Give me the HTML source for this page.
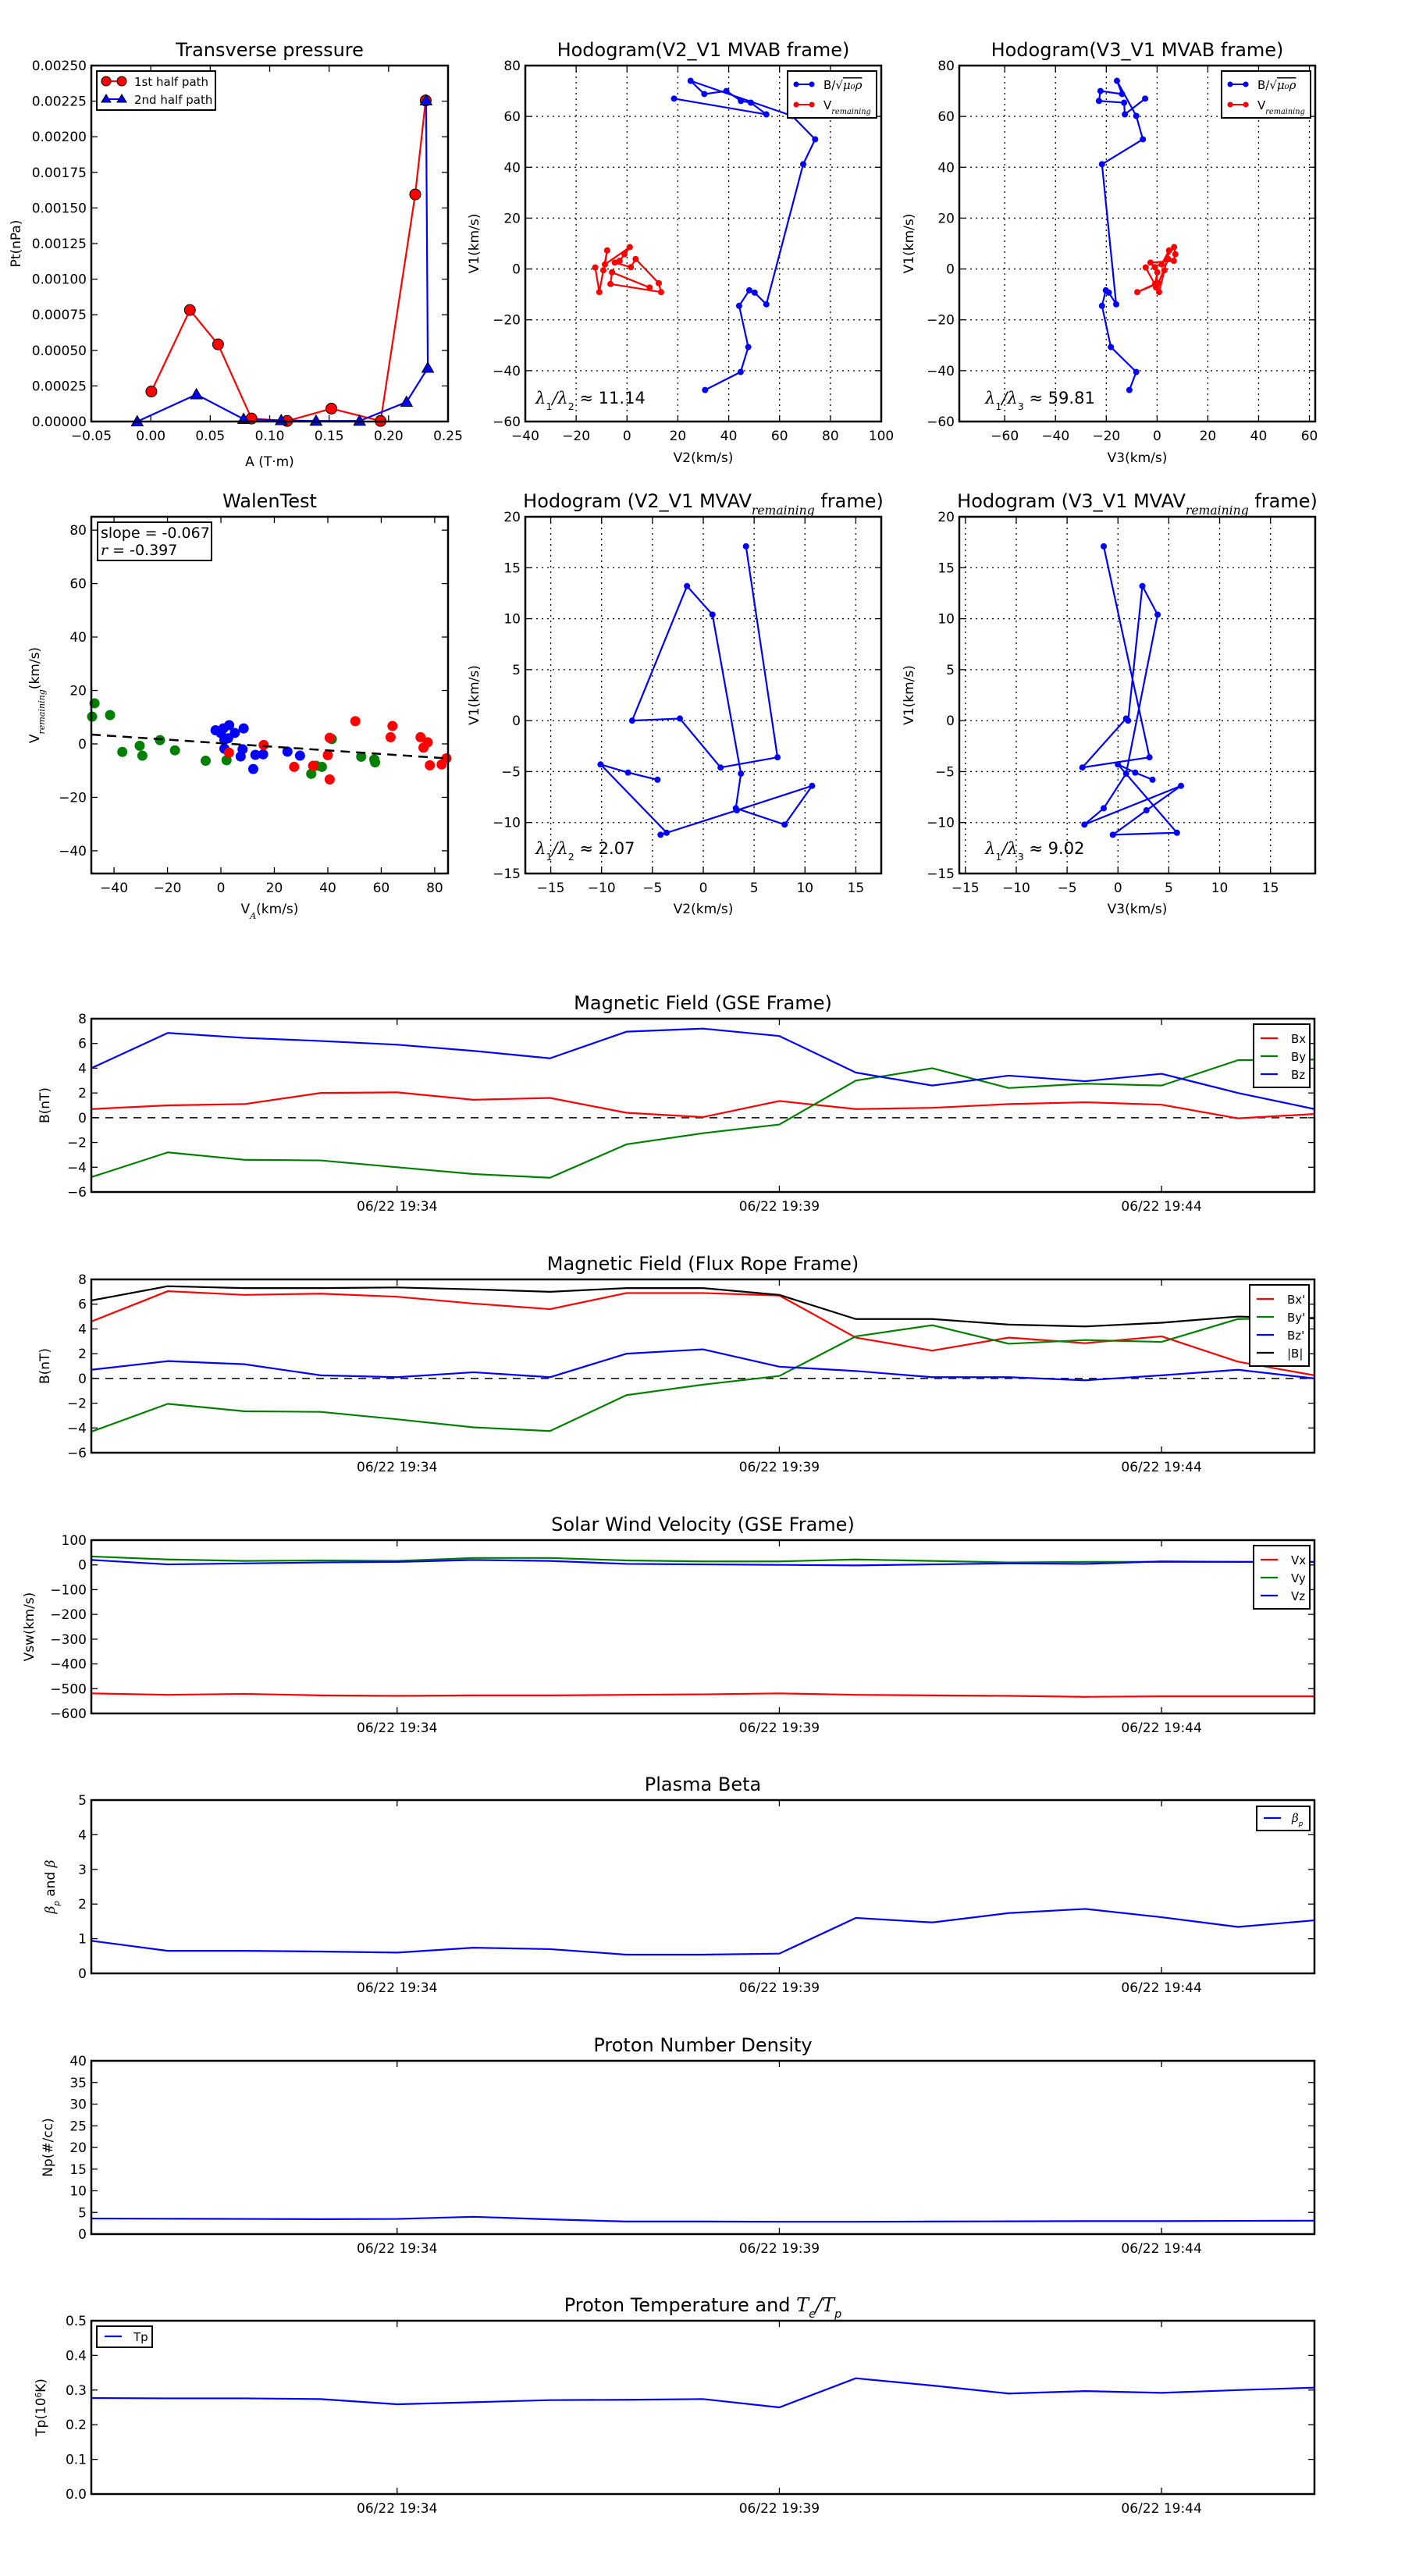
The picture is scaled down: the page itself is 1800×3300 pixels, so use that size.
<!DOCTYPE html>
<html><head><meta charset="utf-8"><title>Flux rope analysis</title>
<style>
html,body{margin:0;padding:0;background:#fff;}
svg{display:block;font-family:"DejaVu Sans","Liberation Sans",sans-serif;}
</style></head>
<body>
<svg id="fig" xmlns="http://www.w3.org/2000/svg" width="1800" height="3300" viewBox="0 0 1800 3300">
<rect x="0" y="0" width="1800" height="3300" fill="#fff"/>
</svg>
<script>
// ---------- Transverse pressure ----------
const tpA1 = [0.0005, 0.0329, 0.0566, 0.0847, 0.1147, 0.1519, 0.1933, 0.2224, 0.2312];
const tpP1 = [0.000211, 0.000783, 0.000542, 0.000021, 0.000004, 0.0000907, 0.000004, 0.001595, 0.002255];
const tpA2 = [-0.0114, 0.0384, 0.0781, 0.1097, 0.139, 0.1756, 0.2151, 0.233, 0.2315];
const tpP2 = [0, 0.00019, 0.000017, 0.000008, 0.000004, 0.000004, 0.000137, 0.000376, 0.002255];
// ---------- MVAB hodograms ----------
const hbV1 = [67, 60.8, 65.4, 66.1, 70, 68.8, 74, 60.2, 51, 41.2, -13.9, -9.3, -8.4, -14.5, -30.7, -40.5, -47.6];
const hbV2 = [18.5, 54.8, 48.7, 44.8, 39.1, 30.4, 25, 65, 74, 69.3, 54.8, 50.2, 48.1, 44.1, 47.7, 44.7, 30.7];
const hbV3 = [-4.7, -12.7, -13, -22.9, -22.3, -13.8, -15.8, -8.2, -5.6, -21.7, -16.1, -19, -20.2, -21.7, -18.2, -8.2, -10.9];
const hrV1 = [0.6, -9.1, -0.5, 7.3, 1.8, 8.6, 5.8, 3.2, 2.5, 0.7, 3.9, -5.6, -9.1, -5.9, -1.3, -7.3];
const hrV2 = [-12.5, -10.9, -9.3, -7.8, -8.7, 1.1, -1, -2.9, -4.8, 1.5, 3.4, 12.5, 13.4, -6.5, -5.9, 8.9];
const hrV3 = [-4.5, 0.8, 2.9, 4.7, 1.8, 6.7, 7.2, 6.6, -2.6, -0.9, 4.4, 0.5, -7.8, -0.8, 0.1, -0.4];
// ---------- MVAV hodograms ----------
const hvV1 = [17.1, -3.6, -4.6, 0.2, 0, 13.2, 10.4, -5.2, -8.6, -10.2, -6.4, -8.8, -11.2, -11, -4.3, -5.1, -5.8];
const hvV2 = [4.2, 7.3, 1.7, -2.3, -7.0, -1.6, 0.9, 3.7, 3.2, 8.0, 10.7, 3.3, -4.2, -3.6, -10.1, -7.4, -4.5];
const hvV3 = [-1.4, 3.1, -3.5, 0.8, 1.0, 2.4, 3.9, 0.8, -1.4, -3.3, 6.2, 2.8, -0.5, 5.8, 0.0, 1.7, 3.4];
// ---------- Walen test ----------
const wgX = [-47.3, -48.2, -41.5, -36.9, -30.4, -29.4, -22.8, -17.2, -5.7, 2.1, 33.8, 35.6, 37.8, 41.5, 52.5, 57.4, 57.7];
const wgY = [15.2, 10.2, 10.8, -3, -0.7, -4.4, 1.4, -2.4, -6.3, -6.1, -11.2, -8.2, -8.6, 1.8, -4.8, -5.8, -6.9];
const wbX = [-2, 0.9, 3.1, -0.1, 1.3, 2.7, 1.3, 5.2, 8.5, 8.1, 7.4, 12.1, 12.9, 15.8, 24.9, 29.6];
const wbY = [5.1, 5.8, 7, 4.1, 1.6, 2.1, -1.8, 4.1, 5.8, -2, -4.7, -9.4, -4.1, -3.9, -2.9, -4.4];
const wrX = [3, 16, 27.4, 34.5, 40, 40.7, 40.7, 50.3, 63.5, 64.2, 74.7, 75.8, 77.4, 78.2, 82.6, 84.4];
const wrY = [-3.3, -0.4, -8.6, -8.2, -4.2, 2.3, -13.3, 8.5, 2.5, 6.7, 2.5, -1.4, 0.6, -8, -7.7, -5.4];
const walenSlope = -0.067;
const walenIntercept = 0.25;
// ---------- Time series ----------
const timeLabels = ["06/22 19:34", "06/22 19:39", "06/22 19:44"];
const timeTickIdx = [4, 9, 14];
const bxG = [0.7, 1.0, 1.1, 2.0, 2.05, 1.45, 1.6, 0.4, 0.05, 1.35, 0.7, 0.8, 1.1, 1.25, 1.05, -0.05, 0.3];
const byG = [-4.8, -2.8, -3.4, -3.45, -4.0, -4.55, -4.85, -2.15, -1.25, -0.55, 3.0, 4.0, 2.4, 2.75, 2.6, 4.65, 4.7];
const bzG = [4.0, 6.85, 6.45, 6.2, 5.9, 5.4, 4.8, 6.95, 7.2, 6.6, 3.65, 2.6, 3.4, 2.95, 3.55, 2.0, 0.7];
const bxF = [4.6, 7.05, 6.75, 6.85, 6.6, 6.05, 5.6, 6.9, 6.9, 6.7, 3.3, 2.25, 3.3, 2.85, 3.4, 1.35, 0.25];
const byF = [-4.3, -2.05, -2.65, -2.7, -3.3, -3.95, -4.25, -1.35, -0.5, 0.2, 3.4, 4.3, 2.8, 3.1, 2.95, 4.8, 4.9];
const bzF = [0.7, 1.4, 1.15, 0.25, 0.1, 0.5, 0.1, 2.0, 2.35, 0.95, 0.6, 0.1, 0.1, -0.15, 0.25, 0.7, 0];
const btF = [6.3, 7.45, 7.3, 7.3, 7.35, 7.2, 7.0, 7.3, 7.3, 6.75, 4.8, 4.8, 4.35, 4.2, 4.5, 5.0, 4.85];
const vx = [-519, -525, -521, -527, -529, -527, -527, -525, -523, -519, -525, -527, -529, -533, -531, -531, -531];
const vy = [34, 22, 16, 18, 16, 28, 28, 18, 14, 14, 22, 16, 10, 12, 12, 12, 12];
const vz = [20, 2, 6, 10, 12, 20, 16, 4, 2, 0, -2, 2, 6, 4, 14, 12, 12];
const betaP = [0.94, 0.65, 0.65, 0.63, 0.6, 0.74, 0.7, 0.54, 0.54, 0.57, 1.6, 1.47, 1.74, 1.86, 1.62, 1.34, 1.53];
const np = [3.6, 3.55, 3.5, 3.45, 3.5, 4.0, 3.4, 2.9, 2.9, 2.85, 2.85, 2.9, 2.95, 3.0, 3.0, 3.05, 3.1];
const tp = [0.277, 0.276, 0.276, 0.274, 0.259, 0.265, 0.271, 0.272, 0.274, 0.25, 0.334, 0.313, 0.29, 0.297, 0.292, 0.3, 0.307];

const NS = 'http://www.w3.org/2000/svg';
const svg = document.getElementById('fig');
function mk(tag, attrs, parent, name) {
  const el = document.createElementNS(NS, tag);
  for (const k in attrs) el.setAttribute(k, attrs[k]);
  
  
  (parent || svg).appendChild(el);
  return el;
}
function txt(x, y, s, size, anchor, parent, name, extra) {
  const a = {x: x, y: y, 'font-size': size, 'text-anchor': anchor || 'middle', fill: '#000'};
  if (extra) for (const k in extra) a[k] = extra[k];
  const t = mk('text', a, parent, name);
  t.textContent = s;
  return t;
}
function fmtNum(v, d) {
  const s = Math.abs(v).toFixed(d);
  return (v < -1e-12 ? '\u2212' : '') + s;
}
function axes(name, x0, x1, y0, y1, xmin, xmax, ymin, ymax) {
  const g = mk('g', {}, svg, name);
  return {g: g, x0: x0, x1: x1, y0: y0, y1: y1,
    sx: v => x0 + (v - xmin) / (xmax - xmin) * (x1 - x0),
    sy: v => y1 - (v - ymin) / (ymax - ymin) * (y1 - y0)};
}
function frame(ax) {
  mk('rect', {x: ax.x0, y: ax.y0, width: ax.x1 - ax.x0, height: ax.y1 - ax.y0, fill: 'none', stroke: '#000', 'stroke-width': 2.5}, ax.g, 'axes-frame');
}
function yTicks(ax, vals, labs, grid, sz) {
  vals.forEach((v, i) => {
    const y = ax.sy(v);
    if (grid) mk('line', {x1: ax.x0, x2: ax.x1, y1: y, y2: y, stroke: '#000', 'stroke-width': 1.3, 'stroke-dasharray': '2,5'}, ax.g, 'y-grid-line');
    mk('line', {x1: ax.x0, x2: ax.x0 + 8, y1: y, y2: y, stroke: '#000', 'stroke-width': 1.3}, ax.g, 'y-tick');
    mk('line', {x1: ax.x1 - 8, x2: ax.x1, y1: y, y2: y, stroke: '#000', 'stroke-width': 1.3}, ax.g, 'y-tick-right');
    txt(ax.x0 - 6, y + 6, labs[i], sz || 17, 'end', ax.g, 'y-tick-label');
  });
}
function xTicks(ax, vals, labs, grid, sz) {
  vals.forEach((v, i) => {
    const x = ax.sx(v);
    if (grid) mk('line', {x1: x, x2: x, y1: ax.y0, y2: ax.y1, stroke: '#000', 'stroke-width': 1.3, 'stroke-dasharray': '2,5'}, ax.g, 'x-grid-line');
    mk('line', {x1: x, x2: x, y1: ax.y1, y2: ax.y1 - 8, stroke: '#000', 'stroke-width': 1.3}, ax.g, 'x-tick');
    mk('line', {x1: x, x2: x, y1: ax.y0, y2: ax.y0 + 8, stroke: '#000', 'stroke-width': 1.3}, ax.g, 'x-tick-top');
    txt(x, ax.y1 + 24, labs[i], sz || 17, 'middle', ax.g, 'x-tick-label');
  });
}
function range(a, b, s) { const r = []; for (let v = a; v <= b + 1e-9; v += s) r.push(Math.round(v * 1e6) / 1e6); return r; }
function poly(ax, xs, ys, color, w, name, dash) {
  const pts = xs.map((x, i) => ax.sx(x).toFixed(2) + ',' + ax.sy(ys[i]).toFixed(2)).join(' ');
  const a = {points: pts, fill: 'none', stroke: color, 'stroke-width': w, 'stroke-linejoin': 'round'};
  if (dash) a['stroke-dasharray'] = dash;
  return mk('polyline', a, ax.g, name);
}
function dots(ax, xs, ys, color, r, name, outline) {
  xs.forEach((x, i) => {
    const a = {cx: ax.sx(x), cy: ax.sy(ys[i]), r: r, fill: color};
    if (outline) { a.stroke = '#000'; a['stroke-width'] = 1; }
    mk('circle', a, ax.g, name);
  });
}
function tris(ax, xs, ys, color, s, name) {
  xs.forEach((x, i) => {
    const cx = ax.sx(x), cy = ax.sy(ys[i]);
    mk('polygon', {points: (cx) + ',' + (cy - s) + ' ' + (cx - s) + ',' + (cy + s * 0.75) + ' ' + (cx + s) + ',' + (cy + s * 0.75), fill: color, stroke: '#000', 'stroke-width': 1}, ax.g, name);
  });
}
function title(ax, s, name) { return txt((ax.x0 + ax.x1) / 2, ax.y0 - 12, s, 24, 'middle', ax.g, name); }
function ylabel(ax, x, s, name) {
  const cy = (ax.y0 + ax.y1) / 2;
  return txt(x, cy, s, 17, 'middle', ax.g, name, {transform: 'rotate(-90 ' + x + ' ' + cy + ')'});
}
function xlabel(ax, y, s, name) { return txt((ax.x0 + ax.x1) / 2, y, s, 17, 'middle', ax.g, name); }
function addSub(t, sub, name) {
  const ts = mk('tspan', {'font-size': '0.65em', 'font-style': 'italic', 'baseline-shift': 'sub', 'font-family': 'DejaVu Serif, serif'}, t, name);
  ts.textContent = sub;
  return ts;
}

// ===== Panel 1: Transverse pressure =====
(function () {
  const ax = axes('transverse-pressure-chart', 117, 574, 84, 540, -0.05, 0.25, 0, 0.0025);
  xTicks(ax, range(-0.05, 0.25, 0.05), range(-0.05, 0.25, 0.05).map(v => fmtNum(v, 2)));
  yTicks(ax, range(0, 0.0025, 0.00025), range(0, 0.0025, 0.00025).map(v => v.toFixed(5)));
  poly(ax, tpA1, tpP1, '#f00', 2.2, 'first-half-path-line');
  poly(ax, tpA2, tpP2, '#00f', 2.2, 'second-half-path-line');
  dots(ax, tpA1, tpP1, '#f00', 7, 'first-half-marker', true);
  tris(ax, tpA2, tpP2, '#00f', 7.5, 'second-half-marker');
  frame(ax);
  title(ax, 'Transverse pressure', 'transverse-pressure-title');
  ylabel(ax, 26, 'Pt(nPa)', 'pt-axis-title');
  xlabel(ax, 597, 'A (T\u00b7m)', 'a-axis-title');
  const lg = mk('g', {}, ax.g, 'legend');
  mk('rect', {x: 124, y: 91, width: 152, height: 50, fill: '#fff', stroke: '#000', 'stroke-width': 2}, lg, 'legend-box');
  mk('line', {x1: 136, x2: 156, y1: 104, y2: 104, stroke: '#f00', 'stroke-width': 2}, lg, 'legend-line-first');
  mk('circle', {cx: 136, cy: 104, r: 6, fill: '#f00', stroke: '#000'}, lg, 'legend-marker-first');
  mk('circle', {cx: 156, cy: 104, r: 6, fill: '#f00', stroke: '#000'}, lg, 'legend-marker-first');
  txt(172, 110, '1st half path', 15, 'start', lg, 'legend-entry-first');
  mk('line', {x1: 136, x2: 156, y1: 127, y2: 127, stroke: '#00f', 'stroke-width': 2}, lg, 'legend-line-second');
  mk('polygon', {points: '136,121 130,131 142,131', fill: '#00f', stroke: '#000'}, lg, 'legend-marker-second');
  mk('polygon', {points: '156,121 150,131 162,131', fill: '#00f', stroke: '#000'}, lg, 'legend-marker-second');
  txt(172, 133, '2nd half path', 15, 'start', lg, 'legend-entry-second');
})();

function hodoLegend(ax, x, y, name) {
  const lg = mk('g', {}, ax.g, name);
  mk('rect', {x: x, y: y, width: 114, height: 60, fill: '#fff', stroke: '#000', 'stroke-width': 2}, lg, 'legend-box');
  mk('line', {x1: x + 11, x2: x + 31, y1: y + 17, y2: y + 17, stroke: '#00f', 'stroke-width': 2}, lg, 'legend-line-b');
  mk('circle', {cx: x + 11, cy: y + 17, r: 3.5, fill: '#00f'}, lg, 'legend-marker-b');
  mk('circle', {cx: x + 31, cy: y + 17, r: 3.5, fill: '#00f'}, lg, 'legend-marker-b');
  const t1 = txt(x + 46, y + 23, 'B/\u221a', 15, 'start', lg, 'legend-entry-b');
  const t1s = mk('tspan', {'font-style': 'italic', 'font-family': 'DejaVu Serif, serif', 'text-decoration': 'overline'}, t1, 'legend-entry-b-sub');
  t1s.textContent = '\u03bc\u2080\u03c1';
  mk('line', {x1: x + 11, x2: x + 31, y1: y + 43, y2: y + 43, stroke: '#f00', 'stroke-width': 2}, lg, 'legend-line-v');
  mk('circle', {cx: x + 11, cy: y + 43, r: 3.5, fill: '#f00'}, lg, 'legend-marker-v');
  mk('circle', {cx: x + 31, cy: y + 43, r: 3.5, fill: '#f00'}, lg, 'legend-marker-v');
  const t2 = txt(x + 46, y + 49, 'V', 15, 'start', lg, 'legend-entry-v');
  addSub(t2, 'remaining', 'legend-entry-v-sub');
}
function ratioText(ax, x, y, a, b, val, name) {
  const t = txt(x, y, '', 21, 'start', ax.g, name);
  const s1 = mk('tspan', {'font-style': 'italic', 'font-family': 'DejaVu Serif, serif'}, t, 'ratio-lambda');
  s1.textContent = '\u03bb';
  const s2 = mk('tspan', {'font-size': '0.6em', 'baseline-shift': 'sub'}, t, 'ratio-sub');
  s2.textContent = a;
  const s3 = mk('tspan', {'font-style': 'italic', 'font-family': 'DejaVu Serif, serif'}, t, 'ratio-lambda');
  s3.textContent = '/\u03bb';
  const s4 = mk('tspan', {'font-size': '0.6em', 'baseline-shift': 'sub'}, t, 'ratio-sub');
  s4.textContent = b;
  const s5 = mk('tspan', {}, t, 'ratio-value');
  s5.textContent = ' \u2248 ' + val;
}

// ===== Hodogram V2-V1 MVAB =====
(function () {
  const ax = axes('hodogram-v2-v1-mvab', 673, 1129, 84, 540, -40, 100, -60, 80);
  xTicks(ax, range(-40, 100, 20), range(-40, 100, 20).map(v => fmtNum(v, 0)), true);
  yTicks(ax, range(-60, 80, 20), range(-60, 80, 20).map(v => fmtNum(v, 0)), true);
  poly(ax, hbV2, hbV1, '#00f', 2.2, 'b-field-path');
  dots(ax, hbV2, hbV1, '#00f', 4, 'b-field-point');
  poly(ax, hrV2, hrV1, '#f00', 2.2, 'v-remaining-path');
  dots(ax, hrV2, hrV1, '#f00', 4, 'v-remaining-point');
  frame(ax);
  title(ax, 'Hodogram(V2_V1 MVAB frame)', 'hodogram-v2-v1-mvab-title');
  ylabel(ax, 613, 'V1(km/s)', 'v1-axis-title');
  xlabel(ax, 592, 'V2(km/s)', 'v2-axis-title');
  hodoLegend(ax, 1009, 91, 'legend');
  ratioText(ax, 686, 517, '1', '2', '11.14', 'eigenvalue-ratio');
})();

// ===== Hodogram V3-V1 MVAB =====
(function () {
  const ax = axes('hodogram-v3-v1-mvab', 1229, 1685, 84, 540, -77.9, 62.3, -60, 80);
  xTicks(ax, range(-60, 60, 20), range(-60, 60, 20).map(v => fmtNum(v, 0)), true);
  yTicks(ax, range(-60, 80, 20), range(-60, 80, 20).map(v => fmtNum(v, 0)), true);
  poly(ax, hbV3, hbV1, '#00f', 2.2, 'b-field-path');
  dots(ax, hbV3, hbV1, '#00f', 4, 'b-field-point');
  poly(ax, hrV3, hrV1, '#f00', 2.2, 'v-remaining-path');
  dots(ax, hrV3, hrV1, '#f00', 4, 'v-remaining-point');
  frame(ax);
  title(ax, 'Hodogram(V3_V1 MVAB frame)', 'hodogram-v3-v1-mvab-title');
  ylabel(ax, 1170, 'V1(km/s)', 'v1-axis-title');
  xlabel(ax, 592, 'V3(km/s)', 'v3-axis-title');
  hodoLegend(ax, 1565, 91, 'legend');
  ratioText(ax, 1262, 517, '1', '3', '59.81', 'eigenvalue-ratio');
})();

// ===== Walen test =====
(function () {
  const ax = axes('walen-test-chart', 117, 574, 662, 1119, -48.5, 85, -48.5, 85);
  xTicks(ax, range(-40, 80, 20), range(-40, 80, 20).map(v => fmtNum(v, 0)));
  yTicks(ax, range(-40, 80, 20), range(-40, 80, 20).map(v => fmtNum(v, 0)));
  dots(ax, wgX, wgY, '#008000', 6.5, 'walen-point-green');
  dots(ax, wbX, wbY, '#00f', 6.5, 'walen-point-blue');
  dots(ax, wrX, wrY, '#f00', 6.5, 'walen-point-red');
  const fx = [-48.5, 85];
  const fy = fx.map(v => walenIntercept + walenSlope * v);
  poly(ax, fx, fy, '#000', 2.5, 'regression-line', '12,8');
  frame(ax);
  title(ax, 'WalenTest', 'walen-test-title');
  const yl = ylabel(ax, 50, 'V', 'v-remaining-axis-title');
  addSub(yl, 'remaining', 'v-remaining-axis-sub');
  const ylt = mk('tspan', {}, yl, 'v-remaining-axis-unit');
  ylt.textContent = '(km/s)';
  const xl = xlabel(ax, 1170, 'V', 'va-axis-title');
  addSub(xl, 'A', 'va-axis-sub');
  const xlt = mk('tspan', {}, xl, 'va-axis-unit');
  xlt.textContent = '(km/s)';
  const bx = mk('g', {}, ax.g, 'fit-stats-box');
  mk('rect', {x: 125, y: 669, width: 146, height: 49, fill: '#fff', stroke: '#000', 'stroke-width': 2}, bx, 'fit-stats-frame');
  txt(129, 689, 'slope = -0.067', 19, 'start', bx, 'slope-text');
  const rt = txt(129, 711, '', 19, 'start', bx, 'r-text');
  const r1 = mk('tspan', {'font-style': 'italic', 'font-family': 'DejaVu Serif, serif'}, rt, 'r-symbol');
  r1.textContent = 'r';
  const r2 = mk('tspan', {}, rt, 'r-value');
  r2.textContent = ' = -0.397';
})();

function mvavTitle(ax, frameName, name) {
  const t = title(ax, 'Hodogram (' + frameName + ' MVAV', name);
  addSub(t, 'remaining', 'title-sub');
  const e = mk('tspan', {}, t, 'title-end');
  e.textContent = ' frame)';
}
// ===== Hodogram V2-V1 MVAV =====
(function () {
  const ax = axes('hodogram-v2-v1-mvav', 673, 1129, 662, 1119, -17.5, 17.5, -15, 20);
  xTicks(ax, range(-15, 15, 5), range(-15, 15, 5).map(v => fmtNum(v, 0)), true);
  yTicks(ax, range(-15, 20, 5), range(-15, 20, 5).map(v => fmtNum(v, 0)), true);
  poly(ax, hvV2, hvV1, '#00f', 2.2, 'hodogram-path');
  dots(ax, hvV2, hvV1, '#00f', 4, 'hodogram-point');
  frame(ax);
  mvavTitle(ax, 'V2_V1', 'hodogram-v2-v1-mvav-title');
  ylabel(ax, 613, 'V1(km/s)', 'v1-axis-title');
  xlabel(ax, 1170, 'V2(km/s)', 'v2-axis-title');
  ratioText(ax, 686, 1094, '1', '2', '2.07', 'eigenvalue-ratio');
})();
// ===== Hodogram V3-V1 MVAV =====
(function () {
  const ax = axes('hodogram-v3-v1-mvav', 1229, 1685, 662, 1119, -15.6, 19.4, -15, 20);
  xTicks(ax, range(-15, 15, 5), range(-15, 15, 5).map(v => fmtNum(v, 0)), true);
  yTicks(ax, range(-15, 20, 5), range(-15, 20, 5).map(v => fmtNum(v, 0)), true);
  poly(ax, hvV3, hvV1, '#00f', 2.2, 'hodogram-path');
  dots(ax, hvV3, hvV1, '#00f', 4, 'hodogram-point');
  frame(ax);
  mvavTitle(ax, 'V3_V1', 'hodogram-v3-v1-mvav-title');
  ylabel(ax, 1170, 'V1(km/s)', 'v1-axis-title');
  xlabel(ax, 1170, 'V3(km/s)', 'v3-axis-title');
  ratioText(ax, 1262, 1094, '1', '3', '9.02', 'eigenvalue-ratio');
})();

// ===== Time series =====
function tsPanel(name, top, ymin, ymax, yvals, ydec, series, titleStr, ylab, ylx, legend, zeroLine) {
  const n = series[0].data.length;
  const ax = axes(name, 117, 1684, top, top + 222, 0, n - 1, ymin, ymax);
  timeTickIdx.forEach((idx, i) => {
    const x = ax.sx(idx);
    mk('line', {x1: x, x2: x, y1: ax.y1, y2: ax.y1 - 8, stroke: '#000', 'stroke-width': 1.3}, ax.g, 'x-tick');
    mk('line', {x1: x, x2: x, y1: ax.y0, y2: ax.y0 + 8, stroke: '#000', 'stroke-width': 1.3}, ax.g, 'x-tick-top');
    txt(x, ax.y1 + 24, timeLabels[i], 17, 'middle', ax.g, 'time-tick-label');
  });
  yTicks(ax, yvals, yvals.map(v => fmtNum(v, ydec)));
  if (zeroLine) {
    mk('line', {x1: ax.x0, x2: ax.x1, y1: ax.sy(0), y2: ax.sy(0), stroke: '#000', 'stroke-width': 1.5, 'stroke-dasharray': '10,8'}, ax.g, 'zero-line');
  }
  const idx = series[0].data.map((_, i) => i);
  series.forEach(s => { poly(ax, idx, s.data, s.color, 2.2, s.name); });
  frame(ax);
  const t = title(ax, titleStr, name + '-title');
  const yl = ylabel(ax, ylx, ylab, 'y-axis-title');
  if (legend) {
    const lg = mk('g', {}, ax.g, 'legend');
    const lh = 23;
    const h = series.length * lh + 12;
    mk('rect', {x: legend.x, y: top + 7, width: legend.w, height: h, fill: '#fff', stroke: '#000', 'stroke-width': 2}, lg, 'legend-box');
    series.forEach((s, i) => {
      const y = top + 7 + 18 + i * lh;
      mk('line', {x1: legend.x + 9, x2: legend.x + 31, y1: y, y2: y, stroke: s.color, 'stroke-width': 2.2}, lg, 'legend-line');
      txt(legend.x + 48, y + 6, s.label, 15, 'start', lg, 'legend-entry');
    });
  }
  return {ax: ax, title: t, ylabel: yl};
}
tsPanel('magnetic-field-gse-chart', 1305, -6, 8, range(-6, 8, 2), 0,
  [{data: bxG, color: '#f00', name: 'bx-line', label: 'Bx'},
   {data: byG, color: '#008000', name: 'by-line', label: 'By'},
   {data: bzG, color: '#00f', name: 'bz-line', label: 'Bz'}],
  'Magnetic Field (GSE Frame)', 'B(nT)', 63, {x: 1606, w: 72}, true);
tsPanel('magnetic-field-flux-rope-chart', 1639, -6, 8, range(-6, 8, 2), 0,
  [{data: bxF, color: '#f00', name: 'bx-prime-line', label: "Bx'"},
   {data: byF, color: '#008000', name: 'by-prime-line', label: "By'"},
   {data: bzF, color: '#00f', name: 'bz-prime-line', label: "Bz'"},
   {data: btF, color: '#000', name: 'b-magnitude-line', label: '|B|'}],
  'Magnetic Field (Flux Rope Frame)', 'B(nT)', 63, {x: 1601, w: 76}, true);
tsPanel('solar-wind-velocity-chart', 1973, -600, 100, range(-600, 100, 100), 0,
  [{data: vx, color: '#f00', name: 'vx-line', label: 'Vx'},
   {data: vy, color: '#008000', name: 'vy-line', label: 'Vy'},
   {data: vz, color: '#00f', name: 'vz-line', label: 'Vz'}],
  'Solar Wind Velocity (GSE Frame)', 'Vsw(km/s)', 43, {x: 1606, w: 72}, false);
(function () {
  const p = tsPanel('plasma-beta-chart', 2306, 0, 5, range(0, 5, 1), 0,
    [{data: betaP, color: '#00f', name: 'beta-p-line', label: ''}],
    'Plasma Beta', '', 70, null, false);
  const ax = p.ax;
  const yl = p.ylabel;
  const a = mk('tspan', {'font-style': 'italic', 'font-family': 'DejaVu Serif, serif'}, yl, 'beta-symbol');
  a.textContent = '\u03b2';
  const b = mk('tspan', {'font-size': '0.6em', 'font-style': 'italic', 'baseline-shift': 'sub'}, yl, 'beta-sub');
  b.textContent = 'p';
  const c = mk('tspan', {}, yl, 'beta-and');
  c.textContent = ' and ';
  const d = mk('tspan', {'font-style': 'italic', 'font-family': 'DejaVu Serif, serif'}, yl, 'beta-symbol');
  d.textContent = '\u03b2';
  const lg = mk('g', {}, ax.g, 'legend');
  mk('rect', {x: 1610, y: 2314, width: 68, height: 31, fill: '#fff', stroke: '#000', 'stroke-width': 2}, lg, 'legend-box');
  mk('line', {x1: 1619, x2: 1641, y1: 2329, y2: 2329, stroke: '#00f', 'stroke-width': 2.2}, lg, 'legend-line');
  const t = txt(1655, 2334, '', 15, 'start', lg, 'legend-entry');
  const t1 = mk('tspan', {'font-style': 'italic', 'font-family': 'DejaVu Serif, serif'}, t, 'legend-beta');
  t1.textContent = '\u03b2';
  const t2 = mk('tspan', {'font-size': '0.6em', 'baseline-shift': 'sub', 'font-style': 'italic'}, t, 'legend-beta-sub');
  t2.textContent = 'p';
})();
tsPanel('proton-density-chart', 2640, 0, 40, range(0, 40, 5), 0,
  [{data: np, color: '#00f', name: 'np-line', label: 'Np'}],
  'Proton Number Density', 'Np(#/cc)', 67, null, false);
(function () {
  const p = tsPanel('proton-temperature-chart', 2973, 0, 0.5, range(0, 0.5, 0.1), 1,
    [{data: tp, color: '#00f', name: 'tp-line', label: 'Tp'}],
    'Proton Temperature and ', 'Tp(10', 58, null, false);
  const a = mk('tspan', {'font-style': 'italic', 'font-family': 'DejaVu Serif, serif'}, p.title, 'te-symbol');
  a.textContent = 'T';
  const b = mk('tspan', {'font-size': '0.6em', 'baseline-shift': 'sub', 'font-style': 'italic'}, p.title, 'te-sub');
  b.textContent = 'e';
  const c = mk('tspan', {'font-style': 'italic', 'font-family': 'DejaVu Serif, serif'}, p.title, 'tp-symbol');
  c.textContent = '/T';
  const d = mk('tspan', {'font-size': '0.6em', 'baseline-shift': 'sub', 'font-style': 'italic'}, p.title, 'tp-sub');
  d.textContent = 'p';
  const e = mk('tspan', {'font-size': '0.6em', 'baseline-shift': 'super'}, p.ylabel, 'tp-exp');
  e.textContent = '6';
  const f = mk('tspan', {}, p.ylabel, 'tp-unit');
  f.textContent = 'K)';
  const lg = mk('g', {}, p.ax.g, 'legend');
  mk('rect', {x: 124, y: 2980, width: 71, height: 27, fill: '#fff', stroke: '#000', 'stroke-width': 2}, lg, 'legend-box');
  mk('line', {x1: 134, x2: 156, y1: 2993, y2: 2993, stroke: '#00f', 'stroke-width': 2.2}, lg, 'legend-line');
  txt(171, 2999, 'Tp', 15, 'start', lg, 'legend-entry');
})();
</script>
</body></html>
